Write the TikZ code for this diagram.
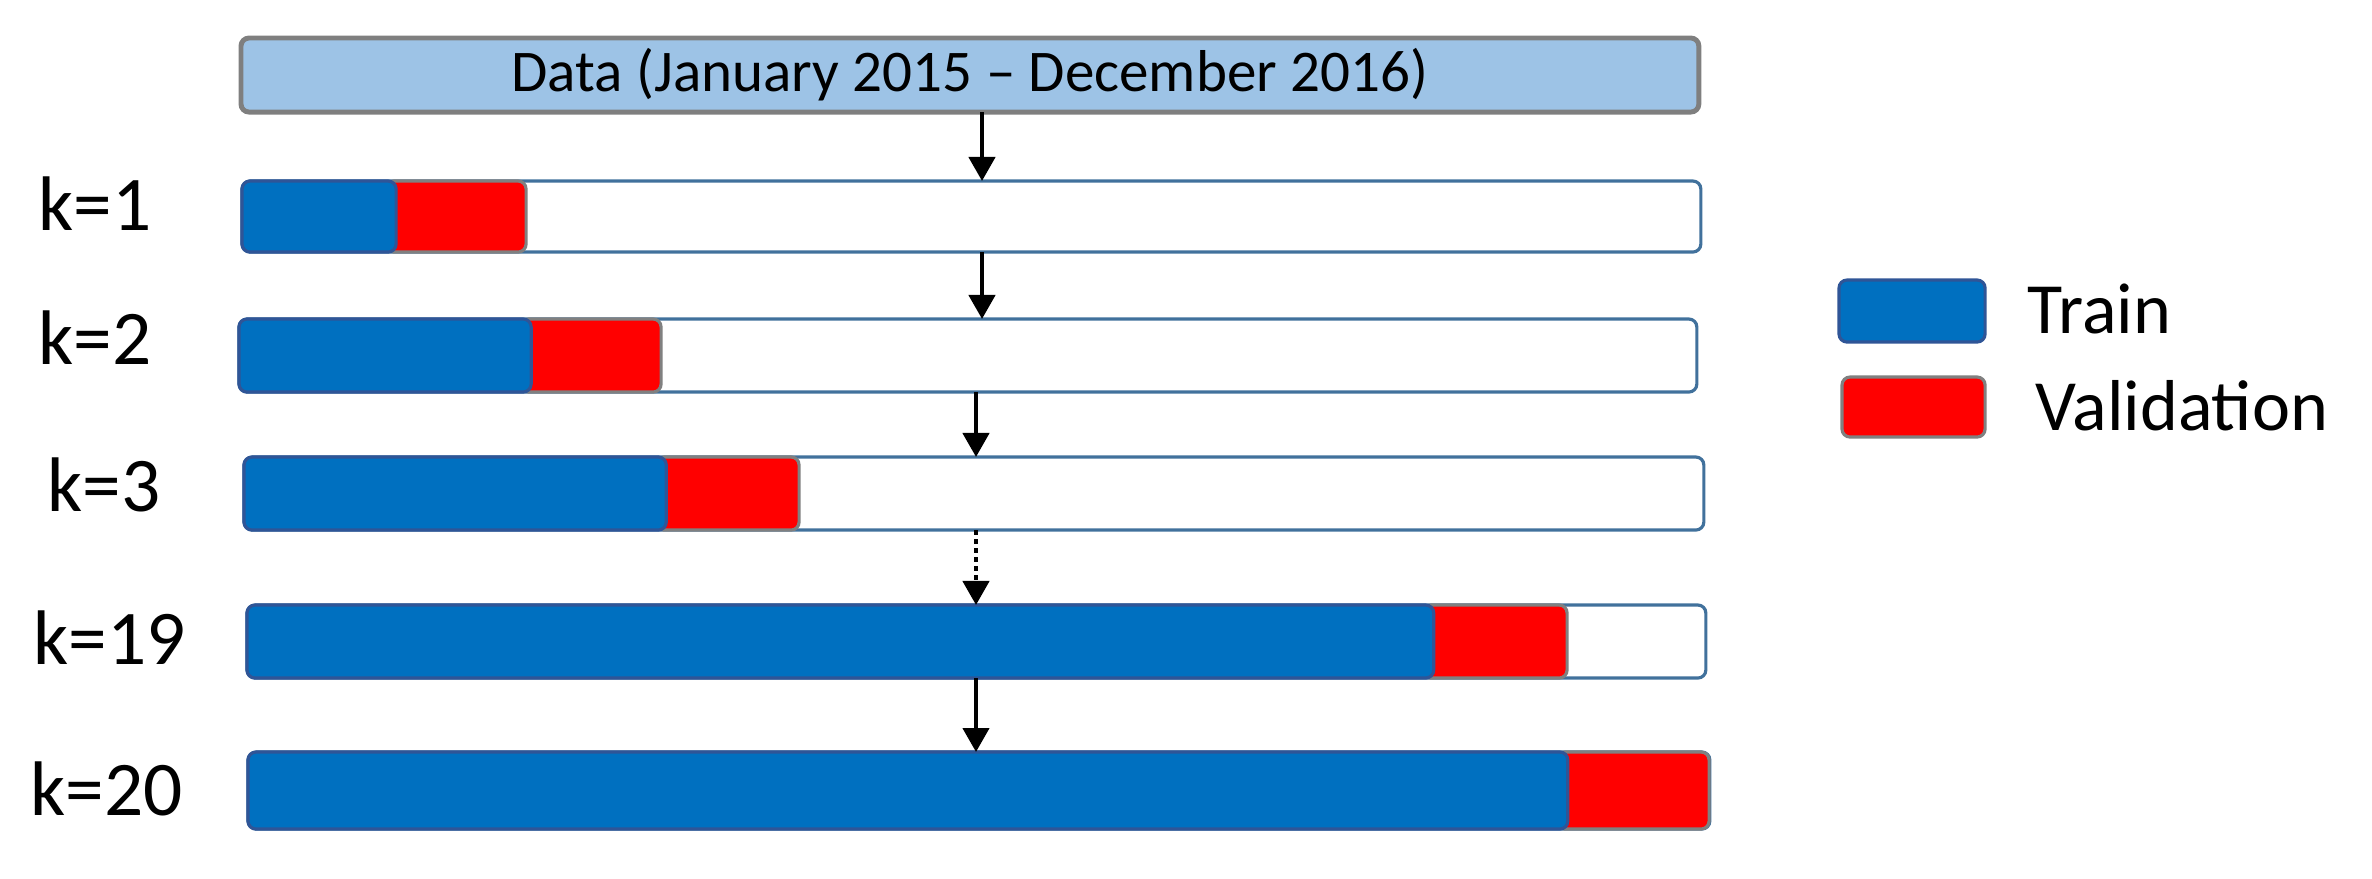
\documentclass[tikz,border=0pt]{standalone}
\usepackage{fontspec}
\setmainfont{Carlito}
\usetikzlibrary{arrows.meta}
\definecolor{barline}{HTML}{41719C}
\definecolor{trainfill}{HTML}{0070C0}
\definecolor{trainline}{HTML}{2F5597}
\definecolor{valfill}{HTML}{FF0000}
\definecolor{valline}{HTML}{808080}
\definecolor{datafill}{HTML}{9DC3E6}
\definecolor{dataline}{HTML}{7F7F7F}
\tikzset{
  box/.style={anchor=north west, inner sep=0pt, outer sep=0pt, rounded corners=0.08cm},
  barbox/.style={box, draw=barline, fill=white, line width=0.9pt},
  trainbox/.style={box, draw=trainline, fill=trainfill, line width=0.9pt},
  valbox/.style={box, draw=valline, fill=valfill, line width=0.9pt},
  databox/.style={box, draw=dataline, fill=datafill, line width=1.4pt},
  klabel/.style={anchor=base west, inner sep=0pt, font=\fontsize{22pt}{26pt}\selectfont},
  leglabel/.style={anchor=base west, inner sep=0pt, font=\fontsize{20.5pt}{24pt}\selectfont},
  arr/.style={line width=1.25pt, -{Triangle[width=0.26cm, length=0.24cm]}},
  dotarr/.style={arr, dash pattern=on 0.045cm off 0.045cm},
}
\begin{document}
\begin{tikzpicture}[x=0.01cm, y=-0.01cm]
\useasboundingbox (0,0) rectangle (2372,878);
% data box
\node[databox, minimum width=14.57cm, minimum height=0.74cm] (data) at (241,38) {};
\node[font=\fontsize{16.8pt}{20pt}\selectfont, inner sep=0pt] (datatext) at (data.center) {Data (January 2015 -- December 2016)};
% bars
\node[barbox, minimum width=14.58cm, minimum height=0.71cm] (k1) at (242,181) {};
\node[barbox, minimum width=14.57cm, minimum height=0.73cm] (k2) at (239,319) {};
\node[barbox, minimum width=14.59cm, minimum height=0.73cm] (k3) at (244,457) {};
\node[barbox, minimum width=14.58cm, minimum height=0.73cm] (k19) at (247,605) {};
\node[barbox, minimum width=14.61cm, minimum height=0.77cm] (k20) at (248,752) {};
% validation segments
\node[valbox, minimum width=1.40cm, minimum height=0.71cm] (k1v) at (386,181) {};
\node[valbox, minimum width=1.40cm, minimum height=0.73cm] (k2v) at (521,319) {};
\node[valbox, minimum width=1.43cm, minimum height=0.73cm] (k3v) at (656,457) {};
\node[valbox, minimum width=1.44cm, minimum height=0.73cm] (k19v) at (1423,605) {};
\node[valbox, minimum width=1.52cm, minimum height=0.77cm] (k20v) at (1557,752) {};
% train segments
\node[trainbox, minimum width=1.54cm, minimum height=0.71cm] (k1t) at (242,181) {};
\node[trainbox, minimum width=2.92cm, minimum height=0.73cm] (k2t) at (239,319) {};
\node[trainbox, minimum width=4.22cm, minimum height=0.73cm] (k3t) at (244,457) {};
\node[trainbox, minimum width=11.86cm, minimum height=0.73cm] (k19t) at (247,605) {};
\node[trainbox, minimum width=13.19cm, minimum height=0.77cm] (k20t) at (248,752) {};
% labels
\node[klabel] (l1) at (38,230) {k=1};
\node[klabel] (l2) at (38,364) {k=2};
\node[klabel] (l3) at (47,511) {k=3};
\node[klabel] (l19) at (33,664) {k=19};
\node[klabel] (l20) at (30,815) {k=20};
% legend
\node[trainbox, minimum width=1.46cm, minimum height=0.62cm] (legt) at (1839,280) {};
\node[valbox, minimum width=1.43cm, minimum height=0.60cm] (legv) at (1842,377) {};
\node[leglabel] (legtt) at (2027,333) {Train};
\node[leglabel] (legvt) at (2035,430) {Validation};
% arrows
\coordinate (ax1) at (982,0);
\coordinate (ax2) at (976,0);
\draw[arr] (data.south -| ax1) -- (k1.north -| ax1);
\draw[arr] (k1.south -| ax1) -- (k2.north -| ax1);
\draw[arr] (k2.south -| ax2) -- (k3.north -| ax2);
\draw[dotarr] (k3.south -| ax2) -- (k19.north -| ax2);
\draw[arr] (k19.south -| ax2) -- (k20.north -| ax2);
\end{tikzpicture}
\end{document}
